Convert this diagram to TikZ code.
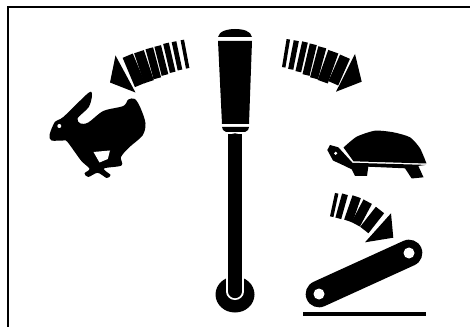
\documentclass[tikz,border=0pt]{standalone}
\usepackage{tikz}
\tikzset{
  strip/.style={draw=black,line cap=butt},
  sil/.style={fill=black,draw=none},
  hole/.style={fill=white,draw=none}
}
\begin{document}
\begin{tikzpicture}[x=0.75pt,y=-0.75pt]
        \useasboundingbox (0,0) rectangle (470,327);
        % frame
        \draw[black,line width=1.6pt] (8,327) -- (8,7) -- (470,7);
        % handle
        \fill[sil] (218,37) .. controls (219,31) and (228,29) .. (235,29) .. controls (243,29) and (251,31) .. (252,37) -- cycle;
        \fill[sil] (218,41) -- (252,41) -- (249,124) -- (222,124) -- cycle;
        \fill[sil] (222,127) -- (249,127) -- (248,130) -- (245,132) -- (226,132) -- (223,130) -- cycle;
        % knob and shaft
        \fill[sil] (235,294.5) ellipse (19.5 and 18);
        \draw[white,line width=12.8pt,line cap=round] (235,270) -- (235,291.5);
        \draw[black,line width=10pt,line cap=round] (235,140) -- (235,291.5);
        \fill[sil] (228.3,134) rectangle (241.7,145);
        % left arrow
        \fill[sil] (115.5,55.5) -- (110,82.5) -- (135.5,92.5) -- cycle;
        \foreach \xa/\ya/\xb/\yb/\w in {182.3/40/187.7/68.3/3.5, 174/41.7/180/70/4.7, 166/43.3/172.7/72.3/5.8,
          157.7/46/165/75/6.8, 149.3/48.3/157.3/78.3/7.8, 139/51.7/149/81.7/10.2, 127.7/55.7/140/85/11}
          \draw[strip,line width=\w*0.75pt] (\xa,\ya) -- (\xb,\yb);
        % right arrow
        \fill[sil] (355,54) -- (361.7,81.7) -- (336,91.7) -- cycle;
        \foreach \xa/\ya/\xb/\yb/\w in {288.3/39.3/283.7/67.3/3.5, 296.3/40.7/290.7/69.3/5.2, 305/42/298.3/71.7/5.8,
          313.3/44.3/306/75/7.2, 322.3/47.3/314/78.3/8.2, 333.3/51.7/322.7/81.7/10.7, 345/56.7/333.3/83.3/10.7}
          \draw[strip,line width=\w*0.75pt] (\xa,\ya) -- (\xb,\yb);
        % small arrow
        \fill[sil] (391,213.3) -- (393.3,237.7) -- (365,242.3) -- cycle;
        \foreach \xa/\ya/\xb/\yb/\w in {336.7/193.3/331.7/216.7/3.5, 345/194.3/338.3/218.3/6,
          356.7/196.7/348.3/221/8.8, 367.7/201.7/355.7/224.3/9.5, 380/210/364.3/230/10.5}
          \draw[strip,line width=\w*0.75pt] (\xa,\ya) -- (\xb,\yb);
        % rabbit
        \fill[sil] plot[smooth cycle,tension=0.5] coordinates {(49.5,135) (55,121.7) (63.3,117) (88.3,93) (92,95)
          (88.8,107) (77.5,118.3) (80.5,123.5) (88.3,122.5) (103.3,111) (123.3,106) (128.3,99.5) (135,99)
          (140.5,108) (145.5,123.3) (142.5,135.5) (129,147.5) (121,157) (121.5,165.5) (104,168.5) (110.5,175)
          (106.7,178) (97.7,172.8) (88.3,177) (84.5,173.3) (89.5,168.8) (81,160.5) (67.5,142) (63.3,140.5) (51.7,140.5)};
        \fill[hole] (93.5,152) -- (110,150.5) -- (107.8,159) -- (99.5,162.5) -- cycle;
        \fill[hole] (59.3,126) circle (2);
        % turtle
        \fill[sil] plot[smooth,tension=0.4] coordinates {(343.5,147.5) (356.7,136.7) (375,130.7) (393.3,132.3) (410,137.3) (420,148.3) (426.5,163.5)} -- (353.5,161.3) -- cycle;
        \fill[sil] (327.3,150) -- (330,145) -- (338.3,147.3) -- (352.5,162.8) -- (426,164.9) -- (418.3,165.9) -- (423.5,177.3)
          -- (411.7,178.5) -- (405,168.3) -- (368.3,166.7) -- (367,176) -- (355,176) -- (351.7,169.3) -- (341.7,164.5) -- (333,160.5) -- cycle;
        \fill[hole] (335.7,153.3) circle (1.7);
        % lever
        \draw[black,line width=20pt,line cap=round] (319,294) -- (409,253);
        \fill[hole] (319,294) circle (5.5);
        \fill[hole] (409,253) circle (5.5);
        \draw[black,line width=3pt] (303,314) -- (426,314);
      \end{tikzpicture}
\end{document}
